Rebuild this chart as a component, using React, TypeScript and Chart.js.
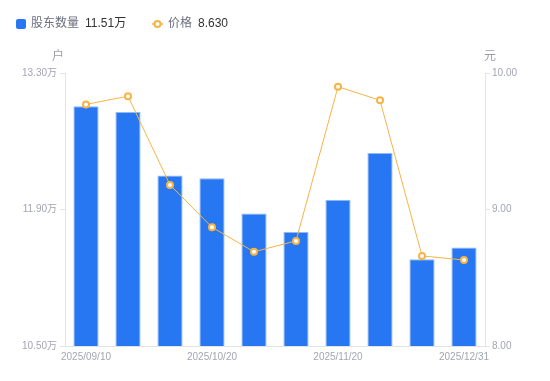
import React, { useEffect, useRef } from "react";
import { Chart, registerables } from "chart.js";

Chart.register(...registerables);

const dates = [
  "2025/09/10",
  "2025/09/20",
  "2025/09/30",
  "2025/10/20",
  "2025/10/31",
  "2025/11/10",
  "2025/11/20",
  "2025/11/30",
  "2025/12/10",
  "2025/12/31",
];
const shownDates = ["2025/09/10", "2025/10/20", "2025/11/20", "2025/12/31"];
const holders = [12.96, 12.9, 12.25, 12.22, 11.86, 11.67, 12.0, 12.48, 11.39, 11.51];
const prices = [9.77, 9.83, 9.18, 8.87, 8.69, 8.77, 9.9, 9.8, 8.66, 8.63];
const leftTicks = [10.5, 11.9, 13.3];
const rightTicks = [8, 9, 10];

const FONT = "'Liberation Sans', 'Noto Sans CJK SC', sans-serif";
const BAR_COLOR = "#2777f2";
const BAR_BORDER = "#8fb9f8";
const LINE_COLOR = "#f7b445";
const TICK_COLOR = "#a3a5b3";
const AXIS_COLOR = "#e3e4e8";

const overlayPlugin = {
  id: "overlay",
  afterDraw(chart: any) {
    const ctx = chart.ctx as CanvasRenderingContext2D;
    ctx.save();
    ctx.textBaseline = "middle";
    ctx.textAlign = "left";
    ctx.font = `12px ${FONT}`;
    // legend item 1
    ctx.fillStyle = BAR_COLOR;
    ctx.beginPath();
    (ctx as any).roundRect(16, 19, 10, 10, 2);
    ctx.fill();
    ctx.fillStyle = "#6c6f7d";
    ctx.fillText("股东数量", 31, 24);
    ctx.fillStyle = "#333333";
    ctx.fillText(holders[holders.length - 1].toFixed(2) + "万", 85, 24);
    // legend item 2
    ctx.strokeStyle = LINE_COLOR;
    ctx.lineWidth = 1.5;
    ctx.beginPath();
    ctx.moveTo(152, 24);
    ctx.lineTo(163, 24);
    ctx.stroke();
    ctx.beginPath();
    ctx.arc(157.5, 24, 3, 0, Math.PI * 2);
    ctx.fillStyle = "#ffffff";
    ctx.fill();
    ctx.lineWidth = 2;
    ctx.stroke();
    ctx.fillStyle = "#6c6f7d";
    ctx.fillText("价格", 168, 24);
    ctx.fillStyle = "#333333";
    ctx.fillText(prices[prices.length - 1].toFixed(3), 198, 24);
    // axis units
    ctx.textAlign = "center";
    ctx.fillStyle = "#9a9cab";
    ctx.font = `12px ${FONT}`;
    ctx.fillText("户", 58, 57);
    ctx.fillText("元", 490, 57);
    ctx.restore();
  },
};

export default function App() {
  const ref = useRef<HTMLCanvasElement>(null);

  useEffect(() => {
    if (!ref.current) return;
    const chart = new Chart(ref.current, {
      type: "bar",
      data: {
        labels: dates,
        datasets: [
          {
            type: "line",
            label: "价格",
            data: prices,
            yAxisID: "y1",
            borderColor: LINE_COLOR,
            borderWidth: 1,
            pointRadius: 3,
            pointBorderWidth: 2,
            pointBackgroundColor: "#ffffff",
            pointBorderColor: LINE_COLOR,
            tension: 0,
            order: 0,
          } as any,
          {
            type: "bar",
            label: "股东数量",
            data: holders,
            yAxisID: "y",
            backgroundColor: BAR_COLOR,
            borderColor: BAR_BORDER,
            borderWidth: 1,
            borderSkipped: "start",
            barPercentage: 0.6,
            categoryPercentage: 1,
            order: 1,
          } as any,
        ],
      },
      options: {
        animation: false,
        responsive: true,
        maintainAspectRatio: false,
        layout: { padding: { top: 73, left: 0, right: 0, bottom: 0 } },
        plugins: {
          legend: { display: false },
          tooltip: { enabled: false },
        },
        scales: {
          x: {
            offset: true,
            grid: { display: false, drawTicks: false },
            border: { display: true, color: AXIS_COLOR },
            ticks: {
              autoSkip: false,
              maxRotation: 0,
              padding: 5,
              color: TICK_COLOR,
              font: { size: 10, family: FONT },
              callback: (_v: any, i: number) =>
                shownDates.includes(dates[i]) ? dates[i] : "",
            },
            afterFit: (s: any) => {
              s.height = 35;
            },
          },
          y: {
            position: "left",
            min: leftTicks[0],
            max: leftTicks[leftTicks.length - 1],
            afterBuildTicks: (s: any) => {
              s.ticks = leftTicks.map((v) => ({ value: v }));
            },
            grid: {
              display: true,
              drawOnChartArea: false,
              drawTicks: true,
              tickLength: 5,
              color: AXIS_COLOR,
            },
            border: { display: true, color: AXIS_COLOR },
            ticks: {
              padding: 3,
              color: TICK_COLOR,
              font: { size: 10, family: FONT },
              callback: (v: any) => Number(v).toFixed(2) + "万",
            },
            afterFit: (s: any) => {
              s.width = 65;
            },
          },
          y1: {
            position: "right",
            min: rightTicks[0],
            max: rightTicks[rightTicks.length - 1],
            afterBuildTicks: (s: any) => {
              s.ticks = rightTicks.map((v) => ({ value: v }));
            },
            grid: {
              display: true,
              drawOnChartArea: false,
              drawTicks: true,
              tickLength: 5,
              color: AXIS_COLOR,
            },
            border: { display: true, color: AXIS_COLOR },
            ticks: {
              padding: 2,
              color: TICK_COLOR,
              font: { size: 10, family: FONT },
              callback: (v: any) => Number(v).toFixed(2),
            },
            afterFit: (s: any) => {
              s.width = 65;
            },
          },
        },
      } as any,
      plugins: [overlayPlugin],
    });
    return () => chart.destroy();
  }, []);

  return (
    <div style={{ position: "absolute", left: 0, top: 0, width: 550, height: 381, background: "#fff" }}>
      <canvas ref={ref} />
    </div>
  );
}
